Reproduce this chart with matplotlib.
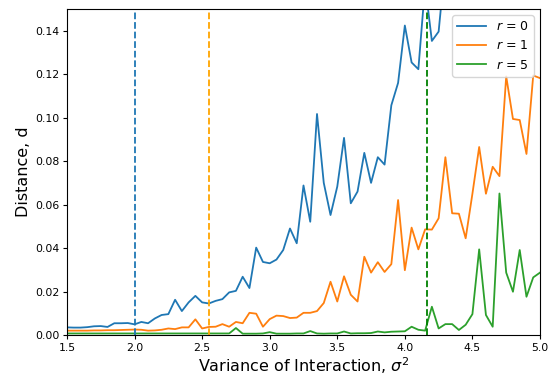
import numpy as np
import matplotlib
matplotlib.use("Agg")
import matplotlib.pyplot as plt

# sigma^2 grid (step 0.05)
sigma2 = np.linspace(1.5, 5.0, 71)

dist_r0 = [0.0035, 0.0034, 0.0034, 0.0036, 0.0040, 0.0041, 0.0037, 0.0054, 0.0054, 0.0055,
           0.0049, 0.0060, 0.0054, 0.0076, 0.0092, 0.0096, 0.0162, 0.0110, 0.0150, 0.0180,
           0.0150, 0.0145, 0.0157, 0.0165, 0.0196, 0.0203, 0.0268, 0.0216, 0.0402, 0.0336,
           0.0330, 0.0347, 0.0391, 0.0490, 0.0422, 0.0688, 0.0521, 0.1017, 0.0700, 0.0552,
           0.0683, 0.0907, 0.0606, 0.0660, 0.0838, 0.0700, 0.0818, 0.0784, 0.1057, 0.1160,
           0.1424, 0.1254, 0.1223, 0.1610, 0.1353, 0.1396, 0.1720, 0.1680, 0.1850, 0.1760,
           0.1940, 0.2100, 0.1900, 0.2230, 0.2050, 0.2380, 0.2270, 0.2500, 0.2360, 0.2620,
           0.2550]

dist_r1 = [0.0020, 0.0020, 0.0020, 0.0020, 0.0021, 0.0021, 0.0022, 0.0022, 0.0023, 0.0024,
           0.0025, 0.0024, 0.0020, 0.0021, 0.0024, 0.0030, 0.0027, 0.0035, 0.0035, 0.0072,
           0.0030, 0.0037, 0.0038, 0.0050, 0.0038, 0.0060, 0.0054, 0.0102, 0.0098, 0.0038,
           0.0073, 0.0089, 0.0087, 0.0078, 0.0080, 0.0102, 0.0102, 0.0110, 0.0147, 0.0245,
           0.0154, 0.0270, 0.0185, 0.0154, 0.0360, 0.0287, 0.0335, 0.0290, 0.0326, 0.0621,
           0.0298, 0.0494, 0.0394, 0.0486, 0.0485, 0.0537, 0.0818, 0.0560, 0.0558, 0.0445,
           0.0650, 0.0865, 0.0650, 0.0774, 0.0731, 0.1190, 0.0994, 0.0989, 0.0833, 0.1194,
           0.1182]

dist_r5 = [0.0007, 0.0007, 0.0007, 0.0007, 0.0007, 0.0007, 0.0007, 0.0007, 0.0007, 0.0007,
           0.0007, 0.0007, 0.0007, 0.0007, 0.0007, 0.0007, 0.0007, 0.0007, 0.0007, 0.0007,
           0.0007, 0.0007, 0.0007, 0.0007, 0.0007, 0.0032, 0.0006, 0.0006, 0.0006, 0.0007,
           0.0013, 0.0006, 0.0006, 0.0006, 0.0007, 0.0007, 0.0018, 0.0007, 0.0006, 0.0007,
           0.0007, 0.0016, 0.0007, 0.0008, 0.0008, 0.0009, 0.0016, 0.0012, 0.0015, 0.0016,
           0.0017, 0.0038, 0.0024, 0.0020, 0.0130, 0.0030, 0.0050, 0.0050, 0.0023, 0.0047,
           0.0096, 0.0394, 0.0092, 0.0038, 0.0651, 0.0287, 0.0199, 0.0391, 0.0176, 0.0265,
           0.0287]

# critical variance for each r
crit_sigma2 = [2.0, 2.55, 4.165]
crit_colors = ["#1f77b4", "#ffa500", "#008000"]

series = [("$r$ = 0", dist_r0), ("$r$ = 1", dist_r1), ("$r$ = 5", dist_r5)]

fig = plt.figure(figsize=(5.5, 3.78), dpi=100)
ax = fig.add_axes([0.1218, 0.1138, 0.86, 0.8624])

for label, d in series:
    ax.plot(sigma2, d, label=label, linewidth=1.3)

for xc, c in zip(crit_sigma2, crit_colors):
    ax.axvline(xc, color=c, linestyle="--", linewidth=1.3)

ax.set_xlim(1.5, 5.0)
ax.set_ylim(0, 0.15)
ax.set_xticks(np.arange(1.5, 5.01, 0.5))
ax.set_yticks(np.arange(0, 0.141, 0.02))
ax.tick_params(labelsize=7.8, length=3, pad=2.5)
ax.set_xlabel("Variance of Interaction, $\\sigma^2$", fontsize=11.5, labelpad=2)
ax.set_ylabel("Distance, d", fontsize=11.5, labelpad=3)
ax.legend(loc="upper right", fontsize=9, handlelength=2.3)

fig.savefig("out.png", dpi=100)
plt.close(fig)
